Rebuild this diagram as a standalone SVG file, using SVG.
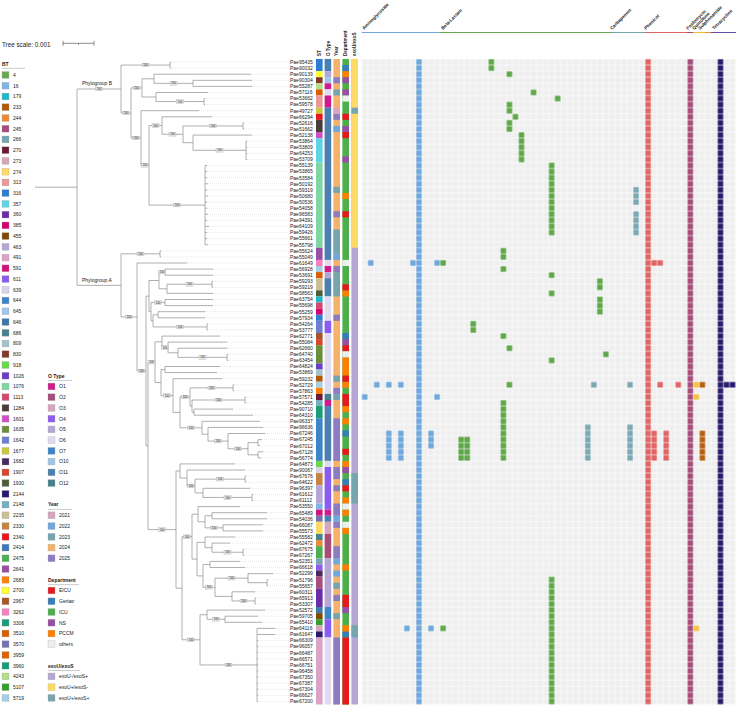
<svg xmlns="http://www.w3.org/2000/svg" width="738" height="706" viewBox="0 0 738 706">
<style>
text{font-family:"Liberation Sans",Arial,sans-serif;fill:#222}
.lg{font-size:5px}
.hd{font-size:5px;font-weight:bold}
.il{font-size:5px}
.ttl{font-size:6.3px}
.pg{font-size:5px}
.mh{font-size:4.6px;font-weight:bold}
.ch{font-size:4.6px;font-weight:bold}
.bs use{fill:#e6e6e6;stroke:#999;stroke-width:.3}
.bs text{font-size:2.8px;text-anchor:middle}
.sw{stroke:#aaa;stroke-width:.3}
.tree{fill:none;stroke:#858585;stroke-width:.65}
.dash{fill:none;stroke:#cccccc;stroke-width:.45;stroke-dasharray:1 1}
.G{fill:url(#pG)}.T{fill:url(#pT)}.B{fill:url(#pB)}.R{fill:url(#pR)}.N{fill:url(#pN)}.Y{fill:url(#pY)}.O{fill:url(#pO)}
</style>
<defs>
<rect id="bx" x="-3.5" y="-1.8" width="7" height="3.6"/>
<pattern id="pE" width="1" height="1" patternUnits="userSpaceOnUse"><rect x=".05" y=".05" width=".9" height=".9" fill="#efefef"/></pattern>
<pattern id="pB" width="1" height="1" patternUnits="userSpaceOnUse"><rect x=".05" y=".05" width=".9" height=".9" fill="#6fa8dc"/></pattern>
<pattern id="pR" width="1" height="1" patternUnits="userSpaceOnUse"><rect x=".05" y=".05" width=".9" height=".9" fill="#e06666"/></pattern>
<pattern id="pM" width="1" height="1" patternUnits="userSpaceOnUse"><rect x=".05" y=".05" width=".9" height=".9" fill="#a64d79"/></pattern>
<pattern id="pN" width="1" height="1" patternUnits="userSpaceOnUse"><rect x=".05" y=".05" width=".9" height=".9" fill="#2a1a6e"/></pattern>
<pattern id="pG" width="1" height="1" patternUnits="userSpaceOnUse"><rect x=".05" y=".05" width=".9" height=".9" fill="#5fa84a"/></pattern>
<pattern id="pT" width="1" height="1" patternUnits="userSpaceOnUse"><rect x=".05" y=".05" width=".9" height=".9" fill="#7aa9b4"/></pattern>
<pattern id="pY" width="1" height="1" patternUnits="userSpaceOnUse"><rect x=".05" y=".05" width=".9" height=".9" fill="#f6c344"/></pattern>
<pattern id="pO" width="1" height="1" patternUnits="userSpaceOnUse"><rect x=".05" y=".05" width=".9" height=".9" fill="#b86010"/></pattern>
</defs>
<rect width="738" height="706" fill="#fff"/>

<g id="scale">
<text class="ttl" x="2" y="46.5">Tree scale: 0.001</text>
<path d="M63 43.3H94M63 40.8V45.8M94 40.8V45.8M78.5 43.3V45" stroke="#444" stroke-width=".6" fill="none"/>
</g>

<g id="legend-bt">
<text class="hd" x="2" y="66">BT</text>
<path d="M2 68.3H25" stroke="#999" stroke-width=".5"/>
<g class="sw">
<rect x="2" y="71.6" width="7" height="6.8" fill="#6aa84f"/>
<rect x="2" y="82.3" width="7" height="6.8" fill="#80b4e4"/>
<rect x="2" y="93.1" width="7" height="6.8" fill="#1fb8c8"/>
<rect x="2" y="103.8" width="7" height="6.8" fill="#b35806"/>
<rect x="2" y="114.6" width="7" height="6.8" fill="#e98b3a"/>
<rect x="2" y="125.3" width="7" height="6.8" fill="#a64d79"/>
<rect x="2" y="136.0" width="7" height="6.8" fill="#76a5af"/>
<rect x="2" y="146.8" width="7" height="6.8" fill="#6b1a3a"/>
<rect x="2" y="157.5" width="7" height="6.8" fill="#d5a6bd"/>
<rect x="2" y="168.3" width="7" height="6.8" fill="#ffd966"/>
<rect x="2" y="179.0" width="7" height="6.8" fill="#ea9999"/>
<rect x="2" y="189.7" width="7" height="6.8" fill="#2d7dd2"/>
<rect x="2" y="200.5" width="7" height="6.8" fill="#5fd3e3"/>
<rect x="2" y="211.2" width="7" height="6.8" fill="#6a2ca8"/>
<rect x="2" y="222.0" width="7" height="6.8" fill="#d1006f"/>
<rect x="2" y="232.7" width="7" height="6.8" fill="#7f4a00"/>
<rect x="2" y="243.4" width="7" height="6.8" fill="#b4a7d6"/>
<rect x="2" y="254.2" width="7" height="6.8" fill="#dba4c4"/>
<rect x="2" y="264.9" width="7" height="6.8" fill="#d4127c"/>
<rect x="2" y="275.7" width="7" height="6.8" fill="#8c5cec"/>
<rect x="2" y="286.4" width="7" height="6.8" fill="#d9d2e9"/>
<rect x="2" y="297.1" width="7" height="6.8" fill="#3d85c6"/>
<rect x="2" y="307.9" width="7" height="6.8" fill="#9fc5e8"/>
<rect x="2" y="318.6" width="7" height="6.8" fill="#3c78a8"/>
<rect x="2" y="329.4" width="7" height="6.8" fill="#45818e"/>
<rect x="2" y="340.1" width="7" height="6.8" fill="#a2c4c9"/>
<rect x="2" y="350.8" width="7" height="6.8" fill="#7f3a2a"/>
<rect x="2" y="361.6" width="7" height="6.8" fill="#6ad84a"/>
<rect x="2" y="372.3" width="7" height="6.8" fill="#6a3dc8"/>
<rect x="2" y="383.1" width="7" height="6.8" fill="#7fd6a3"/>
<rect x="2" y="393.8" width="7" height="6.8" fill="#d5486e"/>
<rect x="2" y="404.5" width="7" height="6.8" fill="#4a3c3c"/>
<rect x="2" y="415.3" width="7" height="6.8" fill="#d04fc4"/>
<rect x="2" y="426.0" width="7" height="6.8" fill="#6a8f3a"/>
<rect x="2" y="436.8" width="7" height="6.8" fill="#6f7fd0"/>
<rect x="2" y="447.5" width="7" height="6.8" fill="#c9c93f"/>
<rect x="2" y="458.2" width="7" height="6.8" fill="#4a2a60"/>
<rect x="2" y="469.0" width="7" height="6.8" fill="#d8472c"/>
<rect x="2" y="479.7" width="7" height="6.8" fill="#4b5e38"/>
<rect x="2" y="490.5" width="7" height="6.8" fill="#2a1a6e"/>
<rect x="2" y="501.2" width="7" height="6.8" fill="#74b0c0"/>
<rect x="2" y="511.9" width="7" height="6.8" fill="#cdbf94"/>
<rect x="2" y="522.7" width="7" height="6.8" fill="#c68440"/>
<rect x="2" y="533.4" width="7" height="6.8" fill="#e8151a"/>
<rect x="2" y="544.2" width="7" height="6.8" fill="#3a78b8"/>
<rect x="2" y="554.9" width="7" height="6.8" fill="#4caf50"/>
<rect x="2" y="565.6" width="7" height="6.8" fill="#984ea3"/>
<rect x="2" y="576.4" width="7" height="6.8" fill="#ff7f00"/>
<rect x="2" y="587.1" width="7" height="6.8" fill="#ffff33"/>
<rect x="2" y="597.9" width="7" height="6.8" fill="#a65628"/>
<rect x="2" y="608.6" width="7" height="6.8" fill="#f781bf"/>
<rect x="2" y="619.3" width="7" height="6.8" fill="#1b9e77"/>
<rect x="2" y="630.1" width="7" height="6.8" fill="#d95f02"/>
<rect x="2" y="640.8" width="7" height="6.8" fill="#7570b3"/>
<rect x="2" y="651.6" width="7" height="6.8" fill="#e06000"/>
<rect x="2" y="662.3" width="7" height="6.8" fill="#1a9e78"/>
<rect x="2" y="673.0" width="7" height="6.8" fill="#b2df8a"/>
<rect x="2" y="683.8" width="7" height="6.8" fill="#33a02c"/>
<rect x="2" y="694.5" width="7" height="6.8" fill="#a6cee3"/>
</g>
<g class="lg">
<text x="13" y="76.8">4</text><text x="13" y="87.5">16</text><text x="13" y="98.3">179</text><text x="13" y="109.0">233</text><text x="13" y="119.8">244</text><text x="13" y="130.5">245</text><text x="13" y="141.2">266</text><text x="13" y="152.0">270</text><text x="13" y="162.7">273</text><text x="13" y="173.5">274</text><text x="13" y="184.2">313</text><text x="13" y="194.9">316</text><text x="13" y="205.7">357</text><text x="13" y="216.4">360</text><text x="13" y="227.2">385</text><text x="13" y="237.9">455</text><text x="13" y="248.6">463</text><text x="13" y="259.4">491</text><text x="13" y="270.1">591</text><text x="13" y="280.9">611</text><text x="13" y="291.6">639</text><text x="13" y="302.3">644</text><text x="13" y="313.1">645</text><text x="13" y="323.8">646</text><text x="13" y="334.6">686</text><text x="13" y="345.3">809</text><text x="13" y="356.0">830</text><text x="13" y="366.8">918</text><text x="13" y="377.5">1026</text><text x="13" y="388.3">1076</text><text x="13" y="399.0">1113</text><text x="13" y="409.7">1284</text><text x="13" y="420.5">1601</text><text x="13" y="431.2">1635</text><text x="13" y="442.0">1642</text><text x="13" y="452.7">1677</text><text x="13" y="463.4">1682</text><text x="13" y="474.2">1907</text><text x="13" y="484.9">1930</text><text x="13" y="495.7">2144</text><text x="13" y="506.4">2148</text><text x="13" y="517.1">2235</text><text x="13" y="527.9">2330</text><text x="13" y="538.6">2340</text><text x="13" y="549.4">2414</text><text x="13" y="560.1">2475</text><text x="13" y="570.8">2641</text><text x="13" y="581.6">2683</text><text x="13" y="592.3">2700</text><text x="13" y="603.1">2967</text><text x="13" y="613.8">3262</text><text x="13" y="624.5">3306</text><text x="13" y="635.3">3510</text><text x="13" y="646.0">3570</text><text x="13" y="656.8">3959</text><text x="13" y="667.5">3960</text><text x="13" y="678.2">4243</text><text x="13" y="689.0">5107</text><text x="13" y="699.7">5719</text>
</g>
</g>

<g id="legend-o">
<text class="hd" x="48" y="377.5">O Type</text>
<path d="M48 380.5H72" stroke="#999" stroke-width=".5"/>
<g class="sw">
<rect x="48" y="383.1" width="7" height="6.8" fill="#d01c8b"/>
<rect x="48" y="393.8" width="7" height="6.8" fill="#a64d79"/>
<rect x="48" y="404.5" width="7" height="6.8" fill="#d5a6bd"/>
<rect x="48" y="415.3" width="7" height="6.8" fill="#8b5cf0"/>
<rect x="48" y="426.0" width="7" height="6.8" fill="#b4a7d6"/>
<rect x="48" y="436.8" width="7" height="6.8" fill="#e0dbef"/>
<rect x="48" y="447.5" width="7" height="6.8" fill="#3d85c6"/>
<rect x="48" y="458.2" width="7" height="6.8" fill="#9fc5e8"/>
<rect x="48" y="469.0" width="7" height="6.8" fill="#4a7fb0"/>
<rect x="48" y="479.7" width="7" height="6.8" fill="#45818e"/>
</g>
<g class="lg">
<text x="59" y="388.3">O1</text><text x="59" y="399.0">O2</text><text x="59" y="409.7">O3</text><text x="59" y="420.5">O4</text><text x="59" y="431.2">O5</text><text x="59" y="442.0">O6</text><text x="59" y="452.7">O7</text><text x="59" y="463.4">O10</text><text x="59" y="474.2">O11</text><text x="59" y="484.9">O12</text>
</g>
</g>

<g id="legend-year">
<text class="hd" x="48" y="506.4">Year</text>
<path d="M48 509.4H72" stroke="#999" stroke-width=".5"/>
<g class="sw">
<rect x="48" y="511.9" width="7" height="6.8" fill="#d5a6bd"/>
<rect x="48" y="522.7" width="7" height="6.8" fill="#6fa8dc"/>
<rect x="48" y="533.4" width="7" height="6.8" fill="#76a5af"/>
<rect x="48" y="544.2" width="7" height="6.8" fill="#f6b26b"/>
<rect x="48" y="554.9" width="7" height="6.8" fill="#8e7cc3"/>
</g>
<g class="lg">
<text x="59" y="517.1">2021</text><text x="59" y="527.9">2022</text><text x="59" y="538.6">2023</text><text x="59" y="549.4">2024</text><text x="59" y="560.1">2025</text>
</g>
</g>

<g id="legend-dept">
<text class="hd" x="48" y="581.6">Department</text>
<path d="M48 584.6H79" stroke="#999" stroke-width=".5"/>
<g class="sw">
<rect x="48" y="587.1" width="7" height="6.8" fill="#e41a1c"/>
<rect x="48" y="597.9" width="7" height="6.8" fill="#377eb8"/>
<rect x="48" y="608.6" width="7" height="6.8" fill="#4daf4a"/>
<rect x="48" y="619.3" width="7" height="6.8" fill="#984ea3"/>
<rect x="48" y="630.1" width="7" height="6.8" fill="#ff7f00"/>
<rect x="48" y="640.8" width="7" height="6.8" fill="#eeeeee"/>
</g>
<g class="lg">
<text x="59" y="592.3">EICU</text><text x="59" y="603.1">Geriatr</text><text x="59" y="613.8">ICU</text><text x="59" y="624.5">NS</text><text x="59" y="635.3">PCCM</text><text x="59" y="646.0">others</text>
</g>
</g>

<g id="legend-exo">
<text class="hd" x="48" y="667.5">exoU/exoS</text>
<path d="M48 670.5H80" stroke="#999" stroke-width=".5"/>
<g class="sw">
<rect x="48" y="673.0" width="7" height="6.8" fill="#b4a7d6"/>
<rect x="48" y="683.8" width="7" height="6.8" fill="#ffd966"/>
<rect x="48" y="694.5" width="7" height="6.8" fill="#76a5af"/>
</g>
<g class="lg">
<text x="59" y="678.2">exoU-/exoS+</text><text x="59" y="689.0">exoU+/exoS-</text><text x="59" y="699.7">exoU+/exoS+</text>
</g>
</g>

<g id="connectors">
<path class="dash" d="M171 62H289M171 68.1H289M251 74.2H289M252 80.3H289M252 86.4H289M208 92.5H289M205 98.5H289M205 104.6H289M199 110.7H289M212 116.8H289M244 122.9H289M244 129H289M252 135.1H289M247 141.2H289M247 147.3H289M247 153.4H289M247 159.4H289M207 165.5H289M207 171.6H289M207 177.7H289M208 183.8H289M207 189.9H289M208 196H289M207 202.1H289M207 208.2H289M208 214.3H289M207 220.3H289M209 226.4H289M207 232.5H289M207 238.6H289M208 244.7H289M161 250.8H289M161 256.9H289M187 263H289M213 269.1H289M213 275.2H289M213 281.2H289M213 287.3H289M213 293.4H289M213 299.5H289M213 305.6H289M205 311.7H289M205 317.8H289M208 323.9H289M208 330H289M220 336.1H289M227 342.1H289M227 348.2H289M228 354.3H289M228 360.4H289M220 366.5H289M217 372.6H289M222 378.7H289M234 384.8H289M234 390.9H289M246 397H289M246 403H289M233 409.1H289M253 415.2H289M260 421.3H289M263 427.4H289M265 433.5H289M262 439.6H289M260 445.7H289M263 451.8H289M261 457.9H289M235 463.9H289M245 470H289M246 476.1H289M246 482.2H289M250 488.3H289M253 494.4H289M253 500.5H289M240 506.6H289M267 512.7H289M267 518.8H289M263 524.8H289M263 530.9H289M235 537H289M230 543.1H289M244 549.2H289M244 555.3H289M240 561.4H289M245 567.5H289M273 573.6H289M268 579.7H289M268 585.7H289M255 591.8H289M256 597.9H289M256 604H289M265 610.1H289M258 616.2H289M262 622.3H289M275 628.4H289M275 634.5H289M258 640.6H289M258 646.6H289M258 652.7H289M258 658.8H289M258 664.9H289M258 671H289M258 677.1H289M258 683.2H289M258 689.3H289M258 695.4H289M258 701.5H289M289.5 59V704"/>
<path class="tree" d="M35 187.2H77M77 89V285.4M77 89H121M121 65.05V112.95M121 65.05H170M170 62V68.1M170 62H171M170 68.1H171M121 112.95H131M131 87.9V138M131 87.9H142M142 78.8V97M142 78.8H154M154 74.2V83.35M154 74.2H251M154 83.35H193M193 80.3V86.4M193 80.3H252M193 86.4H252M142 97H156M156 92.5V101.55M156 92.5H208M156 101.55H204M204 98.5V104.6M204 98.5H205M204 104.6H205M131 138H141M141 110.7V165.3M141 110.7H199M141 165.3H149M149 125.55V205.1M149 125.55H162M162 116.8V134.3M162 116.8H212M162 134.3H183M183 125.95V142.7M183 125.95H243M243 122.9V129M243 122.9H244M243 129H244M183 142.7H193M193 135.1V150.3M193 135.1H252M193 150.3H246M246 141.2V159.4M246 141.2H247M246 147.3H247M246 153.4H247M246 159.4H247M149 205.1H205M205 165.5V244.7M205 165.5H207M205 171.6H207M205 177.7H207M205 183.8H208M205 189.9H207M205 196H208M205 202.1H207M205 208.2H207M205 214.3H208M205 220.3H207M205 226.4H209M205 232.5H207M205 238.6H207M205 244.7H208
M77 285.4H121M121 253.85V317M121 253.85H160M160 250.8V256.9M160 250.8H161M160 256.9H161M121 317H137M137 263V371M137 263H187M137 371H146M146 296.1V445.9M146 296.1H149M149 280.5V311.7M149 280.5H159M159 272.15V288.8M159 272.15H165M165 269.1V275.2M165 269.1H213M165 275.2H213M159 288.8H167M167 284.25V293.4M167 284.25H212M212 281.2V287.3M212 281.2H213M212 287.3H213M167 293.4H213M149 311.7H151M151 302.55V320.85M151 302.55H165M165 299.5V305.6M165 299.5H213M165 305.6H213M151 320.85H153M153 314.75V326.95M153 314.75H158M158 311.7V317.8M158 311.7H205M158 317.8H205M153 326.95H207M207 323.9V330M207 323.9H208M207 330H208
M146 445.9H148M148 362.2V529.6M148 362.2H155M155 341.8V382.55M155 341.8H162M162 336.1V347.45M162 336.1H220M162 347.45H168M168 342.1V352.8M168 342.1H227M168 352.8H178M178 348.2V357.35M178 348.2H227M178 357.35H227M227 354.3V360.4M227 354.3H228M227 360.4H228M155 382.55H161M161 369.55V395.55M161 369.55H165M165 366.5V372.6M165 366.5H220M165 372.6H217M161 395.55H173M173 378.7V412.4M173 378.7H222M173 412.4H180M180 396.95V427.8M180 396.95H190M190 387.85V406.1M190 387.85H233M233 384.8V390.9M233 384.8H234M233 390.9H234M190 406.1H192M192 400V412.15M192 400H245M245 397V403M245 397H246M245 403H246M192 412.15H194M194 409.1V415.2M194 409.1H233M194 415.2H253M180 427.8H202M202 421.3V434.25M202 421.3H260M202 434.25H208M208 427.4V441.1M208 427.4H263M208 441.1H228M228 433.5V448.75M228 433.5H265M228 448.75H248M248 442.65V454.85M248 442.65H258M258 439.6V445.7M258 439.6H262M258 445.7H260M248 454.85H258M258 451.8V457.9M258 451.8H263M258 457.9H261
M148 529.6H176M176 470.95V588.2M176 470.95H180M180 463.9V478M180 463.9H235M180 478H187M187 470V486M187 470H245M187 486H195M195 479.15V492.9M195 479.15H245M245 476.1V482.2M245 476.1H246M245 482.2H246M195 492.9H203M203 488.3V497.45M203 488.3H250M203 497.45H252M252 494.4V500.5M252 494.4H253M252 500.5H253M176 588.2H182M182 536.65V639.8M182 536.65H192M192 514.2V559.1M192 514.2H198M198 506.6V521.8M198 506.6H240M198 521.8H205M205 515.75V527.85M205 515.75H212M212 512.7V518.8M212 512.7H267M212 518.8H267M205 527.85H223M223 524.8V530.9M223 524.8H263M223 530.9H263M192 559.1H197M197 542.35V575.9M197 542.35H205M205 537V547.7M205 537H235M205 547.7H212M212 543.1V552.25M212 543.1H230M212 552.25H243M243 549.2V555.3M243 549.2H244M243 555.3H244M197 575.9H203M203 564.45V587.3M203 564.45H210M210 561.4V567.5M210 561.4H240M210 567.5H245M203 587.3H215M215 578.15V596.4M215 578.15H248M248 573.6V582.7M248 573.6H273M248 582.7H267M267 579.7V585.7M267 579.7H268M267 585.7H268M215 596.4H232M232 591.8V600.95M232 591.8H255M232 600.95H255M255 597.9V604M255 597.9H256M255 604H256M182 639.8H200M200 614.7V664.95M200 614.7H207M207 610.1V619.25M207 610.1H265M207 619.25H225M225 616.2V622.3M225 616.2H258M225 622.3H262M200 664.95H257M257 628.4V701.5M257 628.4H275M257 634.5H275M257 640.6H258M257 646.6H258M257 652.7H258M257 658.8H258M257 664.9H258M257 671H258M257 677.1H258M257 683.2H258M257 689.3H258M257 695.4H258M257 701.5H258"/>
</g>

<g id="bootstrap" class="bs">
<g transform="translate(99 89)"><use href="#bx"/><text y="1">100</text></g>
<g transform="translate(145.5 65)"><use href="#bx"/><text y="1">100</text></g>
<g transform="translate(126 113)"><use href="#bx"/><text y="1">100</text></g>
<g transform="translate(136.5 88)"><use href="#bx"/><text y="1">100</text></g>
<g transform="translate(173.5 83.4)"><use href="#bx"/><text y="1">100</text></g>
<g transform="translate(180 101.6)"><use href="#bx"/><text y="1">100</text></g>
<g transform="translate(136 138)"><use href="#bx"/><text y="1">100</text></g>
<g transform="translate(155.5 125.6)"><use href="#bx"/><text y="1">100</text></g>
<g transform="translate(172.5 134.3)"><use href="#bx"/><text y="1">100</text></g>
<g transform="translate(213 126)"><use href="#bx"/><text y="1">100</text></g>
<g transform="translate(219.5 150.3)"><use href="#bx"/><text y="1">100</text></g>
<g transform="translate(177 205.1)"><use href="#bx"/><text y="1">100</text></g>
<g transform="translate(145 165.3)"><use href="#bx"/><text y="1">100</text></g>
<g transform="translate(140.5 253.9)"><use href="#bx"/><text y="1">100</text></g>
<g transform="translate(129 317)"><use href="#bx"/><text y="1">100</text></g>
<g transform="translate(141.5 371)"><use href="#bx"/><text y="1">100</text></g>
<g transform="translate(162 272.2)"><use href="#bx"/><text y="1">100</text></g>
<g transform="translate(189.5 284.3)"><use href="#bx"/><text y="1">100</text></g>
<g transform="translate(158 302.6)"><use href="#bx"/><text y="1">100</text></g>
<g transform="translate(180 327)"><use href="#bx"/><text y="1">100</text></g>
<g transform="translate(151.5 362.2)"><use href="#bx"/><text y="1">100</text></g>
<g transform="translate(165 347.5)"><use href="#bx"/><text y="1">100</text></g>
<g transform="translate(202.5 357.4)"><use href="#bx"/><text y="1">100</text></g>
<g transform="translate(167 395.6)"><use href="#bx"/><text y="1">100</text></g>
<g transform="translate(185 397)"><use href="#bx"/><text y="1">100</text></g>
<g transform="translate(211.5 387.9)"><use href="#bx"/><text y="1">100</text></g>
<g transform="translate(218.5 400)"><use href="#bx"/><text y="1">100</text></g>
<g transform="translate(191 427.8)"><use href="#bx"/><text y="1">100</text></g>
<g transform="translate(218 441.1)"><use href="#bx"/><text y="1">100</text></g>
<g transform="translate(238 448.8)"><use href="#bx"/><text y="1">100</text></g>
<g transform="translate(162 529.6)"><use href="#bx"/><text y="1">100</text></g>
<g transform="translate(220 479.2)"><use href="#bx"/><text y="1">100</text></g>
<g transform="translate(191 486)"><use href="#bx"/><text y="1">100</text></g>
<g transform="translate(227.5 497.5)"><use href="#bx"/><text y="1">100</text></g>
<g transform="translate(187 536.7)"><use href="#bx"/><text y="1">100</text></g>
<g transform="translate(214 527.9)"><use href="#bx"/><text y="1">100</text></g>
<g transform="translate(227.5 552.3)"><use href="#bx"/><text y="1">100</text></g>
<g transform="translate(209 587.3)"><use href="#bx"/><text y="1">100</text></g>
<g transform="translate(231.5 578.2)"><use href="#bx"/><text y="1">100</text></g>
<g transform="translate(243.5 601)"><use href="#bx"/><text y="1">100</text></g>
<g transform="translate(191 639.8)"><use href="#bx"/><text y="1">100</text></g>
<g transform="translate(216 619.3)"><use href="#bx"/><text y="1">100</text></g>
<g transform="translate(228.5 665)"><use href="#bx"/><text y="1">100</text></g>
</g>

<g id="tree-labels">
<text class="pg" x="82" y="85">Phylogroup B</text>
<text class="pg" x="82" y="282">Phylogroup A</text>
</g>

<g id="isolates" class="il">
<text x="290" y="63.8">Pae95435</text><text x="290" y="69.9">Pae90032</text><text x="290" y="76">Pae90139</text><text x="290" y="82.1">Pae90304</text><text x="290" y="88.2">Pae55287</text><text x="290" y="94.3">Pae57116</text><text x="290" y="100.3">Pae53662</text><text x="290" y="106.4">Pae59578</text><text x="290" y="112.5">Pae49727</text><text x="290" y="118.6">Pae66294</text><text x="290" y="124.7">Pae52616</text><text x="290" y="130.8">Pae51662</text><text x="290" y="136.9">Pae52138</text><text x="290" y="143">Pae53864</text><text x="290" y="149.1">Pae53809</text><text x="290" y="155.2">Pae64253</text><text x="290" y="161.2">Pae53709</text><text x="290" y="167.3">Pae55139</text><text x="290" y="173.4">Pae53865</text><text x="290" y="179.5">Pae53584</text><text x="290" y="185.6">Pae50192</text><text x="290" y="191.7">Pae59319</text><text x="290" y="197.8">Pae50680</text><text x="290" y="203.9">Pae50536</text><text x="290" y="210">Pae54058</text><text x="290" y="216.1">Pae96583</text><text x="290" y="222.1">Pae94391</text><text x="290" y="228.2">Pae64109</text><text x="290" y="234.3">Pae59426</text><text x="290" y="240.4">Pae55661</text><text x="290" y="246.5">Pae55798</text><text x="290" y="252.6">Pae55624</text><text x="290" y="258.7">Pae55049</text><text x="290" y="264.8">Pae61649</text><text x="290" y="270.9">Pae56928</text><text x="290" y="277">Pae53691</text><text x="290" y="283">Pae59293</text><text x="290" y="289.1">Pae59219</text><text x="290" y="295.2">Pae58563</text><text x="290" y="301.3">Pae63754</text><text x="290" y="307.4">Pae55698</text><text x="290" y="313.5">Pae55259</text><text x="290" y="319.6">Pae57934</text><text x="290" y="325.7">Pae54264</text><text x="290" y="331.8">Pae53777</text><text x="290" y="337.9">Pae62771</text><text x="290" y="343.9">Pae55084</text><text x="290" y="350">Pae62660</text><text x="290" y="356.1">Pae64740</text><text x="290" y="362.2">Pae63454</text><text x="290" y="368.3">Pae64824</text><text x="290" y="374.4">Pae53869</text><text x="290" y="380.5">Pae59232</text><text x="290" y="386.6">Pae52729</text><text x="290" y="392.7">Pae57863</text><text x="290" y="398.8">Pae57571</text><text x="290" y="404.8">Pae54285</text><text x="290" y="410.9">Pae90710</text><text x="290" y="417">Pae64310</text><text x="290" y="423.1">Pae96337</text><text x="290" y="429.2">Pae96636</text><text x="290" y="435.3">Pae67246</text><text x="290" y="441.4">Pae67245</text><text x="290" y="447.5">Pae67012</text><text x="290" y="453.6">Pae67128</text><text x="290" y="459.7">Pae56774</text><text x="290" y="465.7">Pae64873</text><text x="290" y="471.8">Pae90067</text><text x="290" y="477.9">Pae67676</text><text x="290" y="484">Pae64622</text><text x="290" y="490.1">Pae96397</text><text x="290" y="496.2">Pae61612</text><text x="290" y="502.3">Pae61112</text><text x="290" y="508.4">Pae53550</text><text x="290" y="514.5">Pae65489</text><text x="290" y="520.6">Pae54036</text><text x="290" y="526.6">Pae66087</text><text x="290" y="532.7">Pae55573</text><text x="290" y="538.8">Pae55582</text><text x="290" y="544.9">Pae62472</text><text x="290" y="551">Pae67675</text><text x="290" y="557.1">Pae67267</text><text x="290" y="563.2">Pae52351</text><text x="290" y="569.3">Pae66618</text><text x="290" y="575.4">Pae52299</text><text x="290" y="581.5">Pae51796</text><text x="290" y="587.5">Pae55657</text><text x="290" y="593.6">Pae60311</text><text x="290" y="599.7">Pae65913</text><text x="290" y="605.8">Pae53307</text><text x="290" y="611.9">Pae52572</text><text x="290" y="618">Pae59705</text><text x="290" y="624.1">Pae65410</text><text x="290" y="630.2">Pae64116</text><text x="290" y="636.3">Pae61647</text><text x="290" y="642.4">Pae66309</text><text x="290" y="648.4">Pae96057</text><text x="290" y="654.5">Pae66487</text><text x="290" y="660.6">Pae66571</text><text x="290" y="666.7">Pae66751</text><text x="290" y="672.8">Pae96458</text><text x="290" y="678.9">Pae67350</text><text x="290" y="685">Pae67387</text><text x="290" y="691.1">Pae67304</text><text x="290" y="697.2">Pae66627</text><text x="290" y="703.3">Pae67200</text>
</g>

<g id="meta-headers" class="mh">
<text transform="translate(321 56) rotate(-90)">ST</text>
<text transform="translate(329.6 56) rotate(-90)">O Type</text>
<text transform="translate(338.4 56) rotate(-90)">Year</text>
<text transform="translate(347.4 56) rotate(-90)">Department</text>
<text transform="translate(356.4 56) rotate(-90)">exoU/exoS</text>
</g>

<g id="metadata" transform="translate(0 58.95) scale(1 6.09)">
<g id="col-st">
<rect x="316" y="0" width="6.6" height="2" fill="#2d7dd2"/><rect x="316" y="2" width="6.6" height="1" fill="#ffff33"/><rect x="316" y="3" width="6.6" height="1" fill="#7f3a2a"/><rect x="316" y="4" width="6.6" height="1" fill="#b2df8a"/><rect x="316" y="5" width="6.6" height="1" fill="#d95f02"/><rect x="316" y="6" width="6.6" height="2" fill="#ea9999"/><rect x="316" y="8" width="6.6" height="1" fill="#c9c93f"/><rect x="316" y="9" width="6.6" height="1" fill="#e8151a"/><rect x="316" y="10" width="6.6" height="2" fill="#4a3c3c"/><rect x="316" y="12" width="6.6" height="1" fill="#d04fc4"/><rect x="316" y="13" width="6.6" height="4" fill="#5fd3e3"/><rect x="316" y="17" width="6.6" height="14" fill="#7fd6a3"/><rect x="316" y="31" width="6.6" height="2" fill="#984ea3"/><rect x="316" y="33" width="6.6" height="1" fill="#f781bf"/><rect x="316" y="34" width="6.6" height="1" fill="#a6cee3"/><rect x="316" y="35" width="6.6" height="1" fill="#d95f02"/><rect x="316" y="36" width="6.6" height="2" fill="#cdbf94"/><rect x="316" y="38" width="6.6" height="1" fill="#4b5e38"/><rect x="316" y="39" width="6.6" height="1" fill="#1fb8c8"/><rect x="316" y="40" width="6.6" height="1" fill="#d5486e"/><rect x="316" y="41" width="6.6" height="1" fill="#d1006f"/><rect x="316" y="42" width="6.6" height="1" fill="#2d7dd2"/><rect x="316" y="43" width="6.6" height="2" fill="#6f7fd0"/><rect x="316" y="45" width="6.6" height="1" fill="#a65628"/><rect x="316" y="46" width="6.6" height="1" fill="#d8472c"/><rect x="316" y="47" width="6.6" height="3" fill="#6a8f3a"/><rect x="316" y="50" width="6.6" height="1" fill="#6a3dc8"/><rect x="316" y="51" width="6.6" height="1" fill="#a2c4c9"/><rect x="316" y="52" width="6.6" height="1" fill="#b35806"/><rect x="316" y="53" width="6.6" height="1" fill="#a6cee3"/><rect x="316" y="54" width="6.6" height="1" fill="#ff7f00"/><rect x="316" y="55" width="6.6" height="1" fill="#6b1a3a"/><rect x="316" y="56" width="6.6" height="1" fill="#74b0c0"/><rect x="316" y="57" width="6.6" height="2" fill="#1b9e77"/><rect x="316" y="59" width="6.6" height="7" fill="#3d85c6"/><rect x="316" y="66" width="6.6" height="1" fill="#6ad84a"/><rect x="316" y="67" width="6.6" height="1" fill="#d9d2e9"/><rect x="316" y="68" width="6.6" height="2" fill="#c68440"/><rect x="316" y="70" width="6.6" height="3" fill="#b4a7d6"/><rect x="316" y="73" width="6.6" height="1" fill="#80b4e4"/><rect x="316" y="74" width="6.6" height="1" fill="#d4127c"/><rect x="316" y="75" width="6.6" height="1" fill="#7570b3"/><rect x="316" y="76" width="6.6" height="2" fill="#ffd966"/><rect x="316" y="78" width="6.6" height="1" fill="#45818e"/><rect x="316" y="79" width="6.6" height="1" fill="#e98b3a"/><rect x="316" y="80" width="6.6" height="2" fill="#4caf50"/><rect x="316" y="82" width="6.6" height="1" fill="#76a5af"/><rect x="316" y="83" width="6.6" height="1" fill="#8c5cec"/><rect x="316" y="84" width="6.6" height="1" fill="#4a2a60"/><rect x="316" y="85" width="6.6" height="2" fill="#a64d79"/><rect x="316" y="87" width="6.6" height="3" fill="#6a2ca8"/><rect x="316" y="90" width="6.6" height="1" fill="#3c78a8"/><rect x="316" y="91" width="6.6" height="1" fill="#7f4a00"/><rect x="316" y="92" width="6.6" height="1" fill="#33a02c"/><rect x="316" y="93" width="6.6" height="1" fill="#d5a6bd"/><rect x="316" y="94" width="6.6" height="1" fill="#2a1a6e"/><rect x="316" y="95" width="6.6" height="11" fill="#dba4c4"/>
</g>
<g id="col-o">
<rect x="324.6" y="0" width="6.6" height="2" fill="#4a7fb0"/><rect x="324.6" y="2" width="6.6" height="1" fill="#b4a7d6"/><rect x="324.6" y="3" width="6.6" height="1" fill="#9fc5e8"/><rect x="324.6" y="4" width="6.6" height="1" fill="#d01c8b"/><rect x="324.6" y="5" width="6.6" height="1" fill="#e0dbef"/><rect x="324.6" y="6" width="6.6" height="2" fill="#d01c8b"/><rect x="324.6" y="8" width="6.6" height="25" fill="#4a7fb0"/><rect x="324.6" y="33" width="6.6" height="1" fill="#e0dbef"/><rect x="324.6" y="34" width="6.6" height="1" fill="#d01c8b"/><rect x="324.6" y="35" width="6.6" height="1" fill="#b4a7d6"/><rect x="324.6" y="36" width="6.6" height="3" fill="#4a7fb0"/><rect x="324.6" y="39" width="6.6" height="4" fill="#e0dbef"/><rect x="324.6" y="43" width="6.6" height="2" fill="#8b5cf0"/><rect x="324.6" y="45" width="6.6" height="10" fill="#e0dbef"/><rect x="324.6" y="55" width="6.6" height="1" fill="#45818e"/><rect x="324.6" y="56" width="6.6" height="1" fill="#d01c8b"/><rect x="324.6" y="57" width="6.6" height="9" fill="#4a7fb0"/><rect x="324.6" y="66" width="6.6" height="1" fill="#e0dbef"/><rect x="324.6" y="67" width="6.6" height="7" fill="#8b5cf0"/><rect x="324.6" y="74" width="6.6" height="1" fill="#d01c8b"/><rect x="324.6" y="75" width="6.6" height="1" fill="#4a7fb0"/><rect x="324.6" y="76" width="6.6" height="2" fill="#d5a6bd"/><rect x="324.6" y="78" width="6.6" height="4" fill="#a64d79"/><rect x="324.6" y="82" width="6.6" height="8" fill="#b4a7d6"/><rect x="324.6" y="90" width="6.6" height="2" fill="#3d85c6"/><rect x="324.6" y="92" width="6.6" height="3" fill="#8b5cf0"/><rect x="324.6" y="95" width="6.6" height="11" fill="#e0dbef"/>
</g>
<g id="col-year">
<rect x="333.4" y="0" width="6.6" height="106" fill="#f6b26b"/>
<g fill="#8e7cc3"><rect x="333.4" y="3" width="6.6" height="1"/><rect x="333.4" y="9" width="6.6" height="1"/><rect x="333.4" y="25" width="6.6" height="1"/><rect x="333.4" y="34" width="6.6" height="1"/><rect x="333.4" y="42" width="6.6" height="1"/><rect x="333.4" y="54" width="6.6" height="1"/><rect x="333.4" y="59" width="6.6" height="7"/><rect x="333.4" y="67" width="6.6" height="2"/><rect x="333.4" y="70" width="6.6" height="1"/><rect x="333.4" y="73" width="6.6" height="2"/><rect x="333.4" y="76" width="6.6" height="1"/><rect x="333.4" y="80" width="6.6" height="2"/><rect x="333.4" y="88" width="6.6" height="1"/><rect x="333.4" y="95" width="6.6" height="11"/></g>
<g fill="#76a5af"><rect x="333.4" y="5" width="6.6" height="1"/><rect x="333.4" y="21" width="6.6" height="1"/><rect x="333.4" y="28" width="6.6" height="4"/><rect x="333.4" y="35" width="6.6" height="4"/><rect x="333.4" y="52" width="6.6" height="1"/><rect x="333.4" y="55" width="6.6" height="1"/><rect x="333.4" y="86" width="6.6" height="1"/><rect x="333.4" y="91" width="6.6" height="1"/></g>
<g fill="#6fa8dc"><rect x="333.4" y="11" width="6.6" height="1"/><rect x="333.4" y="32" width="6.6" height="1"/><rect x="333.4" y="75" width="6.6" height="1"/><rect x="333.4" y="82" width="6.6" height="1"/><rect x="333.4" y="84" width="6.6" height="1"/></g>
<rect x="333.4" y="8" width="6.6" height="1" fill="#d5a6bd"/>
</g>
<g id="col-dept">
<rect x="342.4" y="0" width="6.6" height="106" fill="#4daf4a"/>
<g fill="#377eb8"><rect x="342.4" y="1" width="6.6" height="1"/><rect x="342.4" y="45" width="6.6" height="1"/><rect x="342.4" y="61" width="6.6" height="1"/><rect x="342.4" y="69" width="6.6" height="1"/><rect x="342.4" y="94" width="6.6" height="1"/></g>
<g fill="#ff7f00"><rect x="342.4" y="2" width="6.6" height="1"/><rect x="342.4" y="22" width="6.6" height="1"/><rect x="342.4" y="38" width="6.6" height="1"/><rect x="342.4" y="49" width="6.6" height="3"/><rect x="342.4" y="53" width="6.6" height="1"/><rect x="342.4" y="57" width="6.6" height="1"/><rect x="342.4" y="59" width="6.6" height="1"/><rect x="342.4" y="66" width="6.6" height="1"/><rect x="342.4" y="72" width="6.6" height="1"/><rect x="342.4" y="74" width="6.6" height="1"/><rect x="342.4" y="77" width="6.6" height="1"/><rect x="342.4" y="83" width="6.6" height="1"/><rect x="342.4" y="93" width="6.6" height="1"/></g>
<g fill="#984ea3"><rect x="342.4" y="3" width="6.6" height="1"/><rect x="342.4" y="5" width="6.6" height="1"/><rect x="342.4" y="11" width="6.6" height="1"/><rect x="342.4" y="16" width="6.6" height="1"/><rect x="342.4" y="46" width="6.6" height="1"/><rect x="342.4" y="67" width="6.6" height="1"/><rect x="342.4" y="90" width="6.6" height="1"/></g>
<g fill="#e41a1c"><rect x="342.4" y="9" width="6.6" height="1"/><rect x="342.4" y="12" width="6.6" height="1"/><rect x="342.4" y="25" width="6.6" height="1"/><rect x="342.4" y="37" width="6.6" height="1"/><rect x="342.4" y="47" width="6.6" height="1"/><rect x="342.4" y="52" width="6.6" height="1"/><rect x="342.4" y="55" width="6.6" height="2"/><rect x="342.4" y="64" width="6.6" height="1"/><rect x="342.4" y="70" width="6.6" height="1"/><rect x="342.4" y="88" width="6.6" height="2"/><rect x="342.4" y="95" width="6.6" height="11"/></g>
<g fill="#eeeeee"><rect x="342.4" y="6" width="6.6" height="1"/><rect x="342.4" y="33" width="6.6" height="1"/><rect x="342.4" y="48" width="6.6" height="1"/><rect x="342.4" y="73" width="6.6" height="1"/><rect x="342.4" y="76" width="6.6" height="1"/></g>
</g>
<g id="col-exo">
<rect x="351.4" y="0" width="6.6" height="106" fill="#b4a7d6"/>
<rect x="351.4" y="0" width="6.6" height="31" fill="#ffd966"/>
<g fill="#76a5af"><rect x="351.4" y="8" width="6.6" height="1"/><rect x="351.4" y="68" width="6.6" height="5"/><rect x="351.4" y="93" width="6.6" height="2"/></g>
</g>
</g>

<g id="category-lines" stroke-width="1">
<path d="M361.7 32.5H440" stroke="#6fa8dc"/>
<path d="M440 32.5H611" stroke="#6aa84f"/>
<path d="M611 32.5H645" stroke="#76a5af"/>
<path d="M645 32.5H687" stroke="#e06666"/>
<path d="M687 32.5H693" stroke="#a64d79"/>
<path d="M693 32.5H705" stroke="#f1c232"/>
<path d="M705 32.5H711" stroke="#e69138"/>
<path d="M711 32.5H736" stroke="#674ea7"/>
</g>
<g id="category-headers" class="ch">
<text transform="translate(364 30) rotate(-45)">Aminoglycoside</text>
<text transform="translate(443 30) rotate(-45)">Beta-Lactam</text>
<text transform="translate(612 30) rotate(-45)">Carbapenem</text>
<text transform="translate(646 30) rotate(-45)">Phenicol</text>
<text transform="translate(688 30) rotate(-45)">Fosfomycin</text>
<text transform="translate(694 30) rotate(-45)">Quinolone</text>
<text transform="translate(700 30) rotate(-45)">Sulphonamide</text>
<text transform="translate(714 30) rotate(-45)">Tetracycline</text>
</g>

<g id="heatmap" transform="translate(361.7 58.95) scale(6.03 6.09)">
<rect x="0" y="0" width="62" height="106" fill="url(#pE)"/>
<rect x="9" y="0" width="1" height="106" fill="url(#pB)"/>
<rect x="47" y="0" width="1" height="106" fill="url(#pR)"/>
<rect x="54" y="0" width="1" height="106" fill="url(#pM)"/>
<rect x="59" y="0" width="1" height="106" fill="url(#pN)"/>
<g class="G">
<rect x="21" y="0" width="1" height="2"/>
<rect x="24" y="2" width="1" height="1"/>
<rect x="28" y="5" width="1" height="1"/>
<rect x="32" y="6" width="1" height="1"/>
<rect x="24" y="7" width="1" height="2"/>
<rect x="25" y="9" width="1" height="1"/>
<rect x="24" y="10" width="1" height="2"/>
<rect x="26" y="12" width="1" height="5"/>
<rect x="31" y="17" width="1" height="12"/>
<rect x="23" y="31" width="1" height="2"/>
<rect x="13" y="33" width="1" height="1"/>
<rect x="23" y="34" width="1" height="1"/>
<rect x="31" y="35" width="1" height="1"/>
<rect x="39" y="36" width="1" height="2"/>
<rect x="31" y="38" width="1" height="1"/>
<rect x="39" y="39" width="1" height="3"/>
<rect x="18" y="43" width="1" height="2"/>
<rect x="23" y="45" width="1" height="1"/>
<rect x="24" y="47" width="1" height="1"/>
<rect x="40" y="48" width="1" height="1"/>
<rect x="31" y="49" width="1" height="1"/>
<rect x="24" y="53" width="1" height="1"/>
<rect x="23" y="56" width="1" height="10"/>
<rect x="16" y="62" width="2" height="4"/>
<rect x="13" y="93" width="1" height="1"/>
<rect x="31" y="85" width="1" height="21"/>
</g>
<g class="T">
<rect x="45" y="21" width="1" height="3"/>
<rect x="45" y="25" width="1" height="4"/>
<rect x="38" y="53" width="1" height="1"/>
<rect x="44" y="53" width="1" height="1"/>
<rect x="37" y="60" width="1" height="6"/>
<rect x="44" y="60" width="1" height="6"/>
</g>
<g class="B">
<rect x="1" y="33" width="1" height="1"/><rect x="8" y="33" width="1" height="1"/><rect x="12" y="33" width="1" height="1"/>
<rect x="2" y="53" width="1" height="1"/><rect x="4" y="53" width="1" height="1"/><rect x="6" y="53" width="1" height="1"/>
<rect x="0" y="55" width="1" height="1"/><rect x="12" y="55" width="1" height="1"/>
<rect x="4" y="61" width="1" height="5"/><rect x="6" y="61" width="1" height="5"/><rect x="11" y="61" width="1" height="3"/>
<rect x="7" y="93" width="1" height="1"/><rect x="11" y="93" width="1" height="1"/>
</g>
<g class="R">
<rect x="48" y="33" width="2" height="1"/>
<rect x="49" y="53" width="1" height="1"/><rect x="52" y="53" width="1" height="1"/>
<rect x="48" y="61" width="1" height="5"/><rect x="50" y="61" width="1" height="5"/>
</g>
<g class="O"><rect x="56" y="61" width="1" height="5"/><rect x="56" y="53" width="1" height="1"/></g>
<g class="Y"><rect x="55" y="53" width="1" height="1"/><rect x="55" y="55" width="1" height="1"/><rect x="55" y="93" width="1" height="1"/></g>
<g class="N"><rect x="60" y="53" width="2" height="1"/></g>
</g>
</svg>
